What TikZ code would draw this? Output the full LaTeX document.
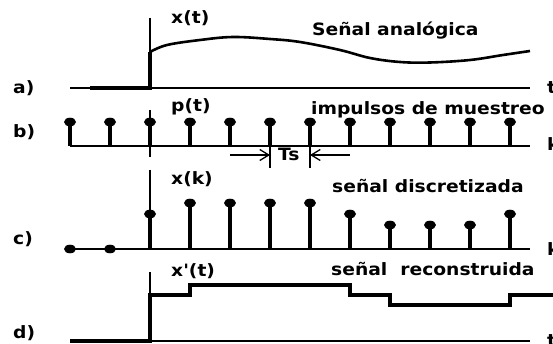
\documentclass[tikz,border=0pt]{standalone}
\usepackage{fontspec}
\newfontfamily\lblfont[FakeStretch=1.1]{DejaVu Sans}
\usetikzlibrary{arrows.meta}
\begin{document}
\begin{tikzpicture}[x=1pt,y=-1pt,
  lbl/.style={font=\lblfont\bfseries\fontsize{17}{17}\selectfont, inner sep=0pt, anchor=base west},
  axisline/.style={line width=1.8pt},
  sig/.style={line width=3.6pt},
  stem/.style={line width=4.2pt},
  tick/.style={line width=1.5pt},
  tsarrow/.style={line width=1.3pt, -{Straight Barb[length=9pt,width=11pt,line width=1.3pt]}}]
\useasboundingbox (0,0) rectangle (553,344);
\clip (0,0) rectangle (553,344);
\fill[white] (0,0) rectangle (553,344);

% ---- a) analog signal
\node[lbl] (la) at (13,94) {a)};
\draw[axisline] (70,88) -- (530,88);
\draw[axisline] (150,18) -- (150,88);
\draw[sig] (90,88) -- (150,88) -- (150,52);
\draw[line width=2.6pt] plot[smooth, tension=0.6] coordinates {(150,52) (167,45) (200,40) (233,37) (270,39) (300,42) (340,50) (370,58) (400,62) (430,62.5) (470,60) (503,55) (530,51)};
\node[lbl] (xt) at (171,24) {x(t)};
\node[lbl] (ta) at (312,36) {Señal analógica};
\node[lbl] (at) at (547,94) {t};

% ---- b) sampling impulses
\node[lbl] (lb) at (13,138) {b)};
\draw[axisline] (70,146) -- (530,146);
\draw[axisline] (150,110) -- (150,157);
\foreach \x in {70,110,...,510}{
  \draw[stem] (\x,146) -- (\x,122);
  \fill (\x,122) ellipse [x radius=6, y radius=4.3];
}
\node[lbl] (pt) at (171,112) {p(t)};
\node[lbl] (tb) at (311,115) {impulsos de muestreo};
\node[lbl] (bk) at (547,151) {k};
\coordinate (ts1) at (270,146);
\coordinate (ts2) at (310,146);
\coordinate (ts1b) at (270,168);
\coordinate (ts2b) at (310,168);
\draw[tick] (ts1) -- (ts1b);
\draw[tick] (ts2) -- (ts2b);
\coordinate (arl) at (230,155);
\coordinate (arr) at (350,155);
\draw[tsarrow] (arl) -- (270,155);
\draw[tsarrow] (arr) -- (310,155);
\node[lbl] (ts) at (278,161) {Ts};

% ---- c) discretized signal
\node[lbl] (lc) at (13,244) {c)};
\draw[axisline] (70,249) -- (530,249);
\draw[axisline] (150,170) -- (150,249);
\foreach \x in {70,110}{
  \fill (\x,249) ellipse [x radius=6, y radius=4.3];
}
\foreach \x/\y in {150/214,190/203,230/203,270/203,310/203,350/214,390/225,430/225,470/225,510/214}{
  \draw[stem] (\x,249) -- (\x,\y);
  \fill (\x,\y) ellipse [x radius=6, y radius=4.3];
}
\node[lbl] (xk) at (171,185) {x(k)};
\node[lbl] (tc) at (332,193) {señal discretizada};
\node[lbl] (ck) at (547,255) {k};

% ---- d) reconstructed signal
\node[lbl] (ld) at (13,338) {d)};
\draw[axisline] (70,341) -- (530,341);
\draw[axisline] (150,272) -- (150,341);
\draw[sig] (70,341) -- (150,341) -- (150,295) -- (190,295) -- (190,285) -- (350,285) -- (350,295) -- (390,295) -- (390,305) -- (510,305) -- (510,295) -- (560,295);
\node[lbl] (xr) at (171,276) {x'(t)};
\node[lbl] (td) at (331,275) {señal\ \ reconstruida};
\node[lbl] (dt) at (547,346) {t};
\end{tikzpicture}
\end{document}
